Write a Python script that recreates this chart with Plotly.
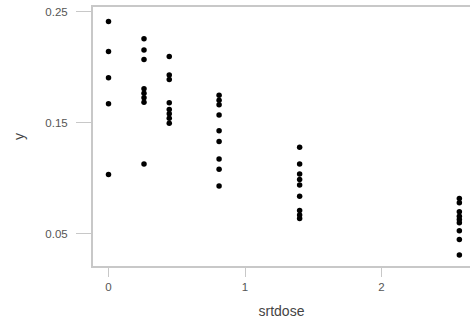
import plotly.graph_objects as go

# square-root dose levels and the response measured at each one
srtdose = (
    [0.0] * 5
    + [0.26] * 8
    + [0.445] * 8
    + [0.81] * 9
    + [1.40] * 9
    + [2.57] * 9
)
y = (
    [0.241, 0.214, 0.1905, 0.167, 0.1035]
    + [0.2255, 0.2155, 0.2068, 0.1805, 0.1765, 0.1725, 0.1685, 0.113]
    + [0.2095, 0.193, 0.189, 0.168, 0.162, 0.158, 0.154, 0.1495]
    + [0.1748, 0.1703, 0.1662, 0.157, 0.1428, 0.1331, 0.1174, 0.1081, 0.0932]
    + [0.128, 0.113, 0.104, 0.099, 0.094, 0.084, 0.071, 0.067, 0.064]
    + [0.082, 0.078, 0.070, 0.066, 0.063, 0.060, 0.053, 0.045, 0.031]
)

x_ticks = [0, 1, 2]
y_ticks = [0.05, 0.15, 0.25]
y_tick_text = ["0.05", "0.15", "0.25"]

axis_grey = "#c8c8c8"
label_grey = "#555555"

fig = go.Figure(
    go.Scatter(
        x=srtdose,
        y=y,
        mode="markers",
        marker=dict(color="black", size=5.5, line=dict(width=0)),
        hoverinfo="x+y",
    )
)

fig.update_layout(
    width=471,
    height=323,
    margin=dict(l=93, r=1, t=7, b=57),
    paper_bgcolor="white",
    plot_bgcolor="white",
    showlegend=False,
    font=dict(family="Liberation Sans, Arial, sans-serif", size=11, color=label_grey),
)

# bottom axis with the frame line carried across the top
fig.update_xaxes(
    range=[-0.1136, 2.648],
    tickvals=x_ticks,
    ticktext=[str(t) for t in x_ticks],
    ticks="outside",
    ticklen=9,
    tickwidth=1,
    tickcolor=axis_grey,
    showline=True,
    linecolor=axis_grey,
    linewidth=2,
    mirror=True,
    showgrid=False,
    zeroline=False,
    tickfont=dict(size=11.5, color=label_grey),
    title=dict(text="srtdose", font=dict(size=14, color="#444444"), standoff=14),
)

fig.update_yaxes(
    range=[0.0212, 0.2541],
    tickvals=y_ticks,
    ticktext=y_tick_text,
    ticks="outside",
    ticklen=15,
    tickwidth=1,
    tickcolor=axis_grey,
    showline=True,
    linecolor=axis_grey,
    linewidth=2,
    mirror=False,
    showgrid=False,
    zeroline=False,
    tickfont=dict(size=11.5, color=label_grey),
    ticklabelstandoff=6,
    title=dict(text="y", font=dict(size=14, color="#444444"), standoff=17),
)

fig.write_html("out.html")
